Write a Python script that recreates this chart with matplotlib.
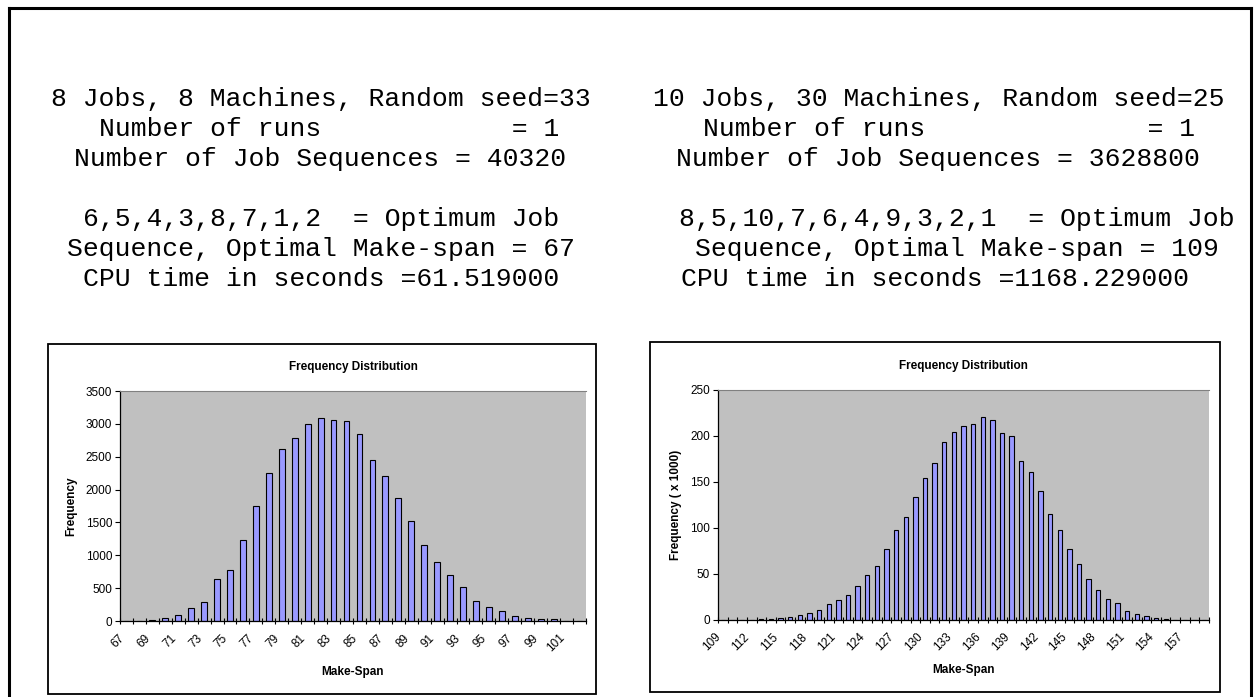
import matplotlib
matplotlib.use("Agg")
import matplotlib.pyplot as plt
import matplotlib.transforms as mtransforms
from matplotlib.lines import Line2D
from matplotlib.patches import Rectangle

W, H = 1256, 697

# left run: 8 jobs, 8 machines
left_spans = list(range(67, 103))
left_freq = [0, 0, 10, 40, 85, 200, 295, 640, 775, 1230, 1745, 2250, 2625, 2790,
             3005, 3095, 3055, 3040, 2845, 2450, 2200, 1875, 1525, 1160, 895, 705,
             510, 310, 220, 145, 70, 40, 25, 25, 0, 0]
left_text = ["8 Jobs, 8 Machines, Random seed=33",
             "Number of runs            = 1",
             "Number of Job Sequences = 40320",
             "6,5,4,3,8,7,1,2  = Optimum Job",
             "Sequence, Optimal Make-span = 67",
             "CPU time in seconds =61.519000"]

# right run: 10 jobs, 30 machines (frequency in thousands)
right_spans = list(range(109, 160))
right_freq = [0, 0, 0, 0, 1, 1, 2, 3, 5, 8, 11, 17, 22, 27, 37, 49, 59, 77, 98, 112,
              134, 154, 171, 194, 204, 211, 213, 221, 217, 203, 200, 173, 161, 140,
              115, 98, 77, 61, 45, 33, 23, 18, 10, 6, 4, 2, 1, 0, 0, 0, 0]
right_text = ["10 Jobs, 30 Machines, Random seed=25",
              "Number of runs              = 1",
              "Number of Job Sequences = 3628800",
              "8,5,10,7,6,4,9,3,2,1  = Optimum Job",
              "Sequence, Optimal Make-span = 109",
              "CPU time in seconds =1168.229000"]

fig = plt.figure(figsize=(W / 100, H / 100), dpi=100)
fig.patch.set_facecolor("white")


def fx(x):
    return x / W


def fy(y):
    return 1 - y / H


# outer page frame
for xs, ys in [((9, 1251), (8, 8)), ((9, 9), (8, 697)), ((1251, 1251), (8, 697))]:
    fig.add_artist(Line2D([fx(xs[0]), fx(xs[1])], [fy(ys[0]), fy(ys[1])],
                          color="black", lw=2.2))

# text block, baseline per line
base_y = [106, 136, 166, 226, 256, 286]
left_x0 = [51, 99, 74, 83, 67, 83]
right_x0 = [653, 703, 676, 679, 695, 681]
for xs, lines in [(left_x0, left_text), (right_x0, right_text)]:
    for x0, y, s in zip(xs, base_y, lines):
        fig.text(fx(x0), fy(y), s, family="Liberation Mono", fontsize=19,
                 ha="left", va="baseline")


def chart(box, plot, spans, freq, ymax, ystep, lab_every, ylabel, title_y, xlab_y):
    bx0, by0, bx1, by1 = box
    fig.add_artist(Rectangle((fx(bx0), fy(by1)), fx(bx1 - bx0), (by1 - by0) / H,
                             fill=False, edgecolor="black", lw=1.3))
    px0, py0, px1, py1 = plot
    ax = fig.add_axes([fx(px0), fy(py1), fx(px1 - px0), (py1 - py0) / H])
    ax.set_facecolor("#c0c0c0")
    n = len(spans)
    ax.bar(range(n), freq, width=0.45, color="#9999ff", edgecolor="black", lw=0.8)
    ax.set_xlim(-0.5, n - 0.5)
    ax.set_ylim(0, ymax)
    ax.set_yticks(range(0, ymax + 1, ystep))
    ax.tick_params(axis="y", labelsize=8.5, length=3.6, width=0.8, pad=2)
    ax.set_xticks(range(0, n, lab_every))
    ax.set_xticklabels([str(spans[i]) for i in range(0, n, lab_every)])
    ax.tick_params(axis="x", which="major", length=0, labelsize=8.5, pad=11)
    shift = mtransforms.ScaledTranslation(-4 / 100, 0, fig.dpi_scale_trans)
    for lab in ax.get_xticklabels():
        lab.set_rotation(45)
        lab.set_ha("right")
        lab.set_va("center")
        lab.set_rotation_mode("anchor")
        lab.set_transform(lab.get_transform() + shift)
    ax.set_xticks([i - 0.5 for i in range(n + 1)], minor=True)
    ax.tick_params(axis="x", which="minor", direction="inout", length=5, width=0.8)
    for lab in ax.get_yticklabels() + ax.get_xticklabels():
        lab.set_family("Liberation Sans")
    ax.spines["top"].set_color("#808080")
    ax.spines["top"].set_linewidth(0.8)
    ax.spines["right"].set_visible(False)
    ax.spines["left"].set_linewidth(0.9)
    ax.spines["bottom"].set_linewidth(0.9)
    cx = (px0 + px1) / 2
    fig.text(fx(cx), fy(title_y), "Frequency Distribution", family="Liberation Sans",
             fontsize=8.5, weight="bold", ha="center", va="center")
    fig.text(fx(cx), fy(xlab_y), "Make-Span", family="Liberation Sans",
             fontsize=8.5, weight="bold", ha="center", va="center")
    ax.set_ylabel(ylabel, family="Liberation Sans", fontsize=8.5, weight="bold",
                  labelpad=6)
    return ax


chart((48, 344, 596, 694), (120, 391, 586, 621), left_spans, left_freq,
      3500, 500, 2, "Frequency", 367, 672)
chart((650, 342, 1220, 692), (718, 390, 1209, 620), right_spans, right_freq,
      250, 50, 3, "Frequency ( x 1000)", 366, 670)

fig.savefig("out.png", dpi=100)
